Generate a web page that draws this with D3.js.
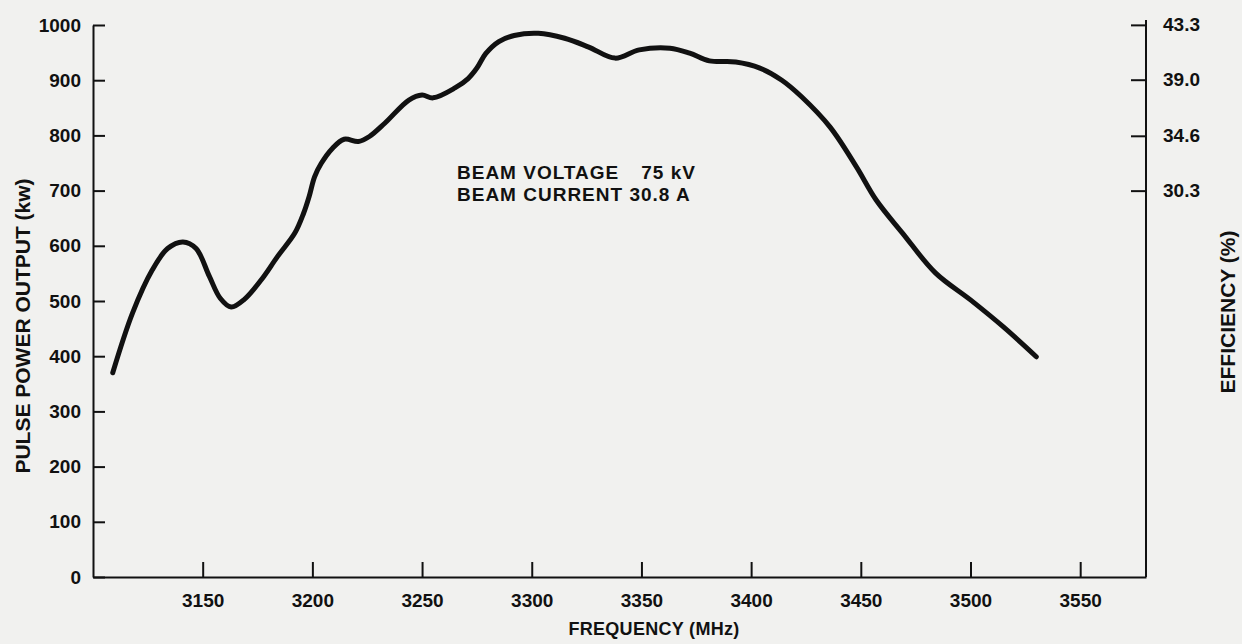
<!DOCTYPE html>
<html>
<head>
<meta charset="utf-8">
<script src="https://cdn.jsdelivr.net/npm/d3@7"></script>
<style>
  body { margin: 0; background: #f1f1ef; }
  svg { display: block; }
  text { font-family: "Liberation Sans", Arial, sans-serif; font-weight: bold; fill: #111; }
</style>
</head>
<body>
<svg id="chart" width="1242" height="644"></svg>
<script>
// frequency (MHz) and pulse power output (kW)
const freq = [3109, 3118, 3127, 3134, 3141, 3147, 3153, 3158, 3163, 3169, 3177, 3184, 3192,
  3196, 3198.5, 3201, 3204, 3209, 3214.5, 3221, 3226, 3233, 3244, 3250, 3255, 3265, 3271,
  3275, 3279, 3285, 3292, 3303, 3315, 3326, 3338, 3349, 3363, 3372, 3381, 3393, 3404, 3414,
  3423, 3436, 3448, 3457, 3469, 3484, 3500, 3515, 3530];
const power = [370, 478, 556, 595, 607, 595, 545, 505, 489, 503, 540, 580, 623,
  659, 689, 725, 749, 776, 793, 789, 798, 822, 864, 873, 868, 886, 903,
  922, 948, 970, 981, 985, 976, 960, 940, 955, 958, 949, 935, 933, 922, 900,
  870, 815, 743, 683, 623, 551, 502, 453, 399];

const xTicks = [3150, 3200, 3250, 3300, 3350, 3400, 3450, 3500, 3550];
const yTicks = [0, 100, 200, 300, 400, 500, 600, 700, 800, 900, 1000];
const effTicks = [30.3, 34.6, 39.0, 43.3];
const beamVoltage = 75;   // kV
const beamCurrent = 30.8; // A

const svg = d3.select("#chart");
const mLeft = 93, mRight = 1146, mTop = 25, mBottom = 577;

const x = d3.scaleLinear().domain([3100, 3580]).range([mLeft, mRight]);
const y = d3.scaleLinear().domain([0, 1000]).range([mBottom, mTop]);
// efficiency = power / (V * I)
const yEff = d3.scaleLinear()
  .domain([0, 1000 / (beamVoltage * beamCurrent) * 100])
  .range([mBottom, mTop]);

// left axis, ticks pointing inward
const gy = svg.append("g")
  .attr("transform", `translate(${mLeft},0)`)
  .call(d3.axisRight(y).tickValues(yTicks).tickSize(12).tickSizeOuter(0).tickFormat(d3.format("d")));
gy.selectAll("text").attr("x", -12).attr("text-anchor", "end");

// bottom axis, ticks pointing up
const gx = svg.append("g")
  .attr("transform", `translate(0,${mBottom})`)
  .call(d3.axisTop(x).tickValues(xTicks).tickSize(15).tickSizeOuter(0).tickFormat(d3.format("d")));
gx.selectAll("text").attr("y", 30).attr("dy", 0);

// right axis, ticks pointing inward
const gr = svg.append("g")
  .attr("transform", `translate(${mRight},0)`)
  .call(d3.axisLeft(yEff).tickValues(effTicks).tickSize(15).tickSizeOuter(0).tickFormat(d3.format(".1f")));
gr.selectAll("text").attr("x", 17).attr("text-anchor", "start");
gr.select(".domain").attr("d", `M0,${mTop - 5}V${mBottom}`);

svg.selectAll(".domain, .tick line").attr("stroke", "#111").attr("stroke-width", 2);
svg.selectAll(".tick text").style("font-size", "19px").attr("fill", "#111");

// the measured curve
const line = d3.line()
  .x((d, i) => x(freq[i]))
  .y(d => y(d))
  .curve(d3.curveCatmullRom.alpha(0.5));

svg.append("path")
  .datum(power)
  .attr("d", line)
  .attr("fill", "none")
  .attr("stroke", "#111")
  .attr("stroke-width", 5)
  .attr("stroke-linecap", "round")
  .attr("stroke-linejoin", "round");

// annotation
const note1 = svg.append("text")
  .attr("x", 457).attr("y", 179)
  .style("font-size", "19px")
  .style("letter-spacing", "1px")
  .text("BEAM VOLTAGE");
note1.append("tspan").attr("dx", 22).text(`${beamVoltage} kV`);
svg.append("text")
  .attr("x", 457).attr("y", 201)
  .style("font-size", "19px")
  .style("letter-spacing", "1px")
  .text(`BEAM CURRENT ${beamCurrent} A`);

// axis titles
svg.append("text")
  .attr("transform", "translate(30,326) rotate(-90)")
  .attr("text-anchor", "middle")
  .style("font-size", "21px")
  .text("PULSE POWER OUTPUT (kw)");

svg.append("text")
  .attr("transform", "translate(1235,312) rotate(-90)")
  .attr("text-anchor", "middle")
  .style("font-size", "21px")
  .text("EFFICIENCY (%)");

svg.append("text")
  .attr("x", 654).attr("y", 635)
  .attr("text-anchor", "middle")
  .style("font-size", "18px")
  .style("letter-spacing", "0.3px")
  .text("FREQUENCY (MHz)");
</script>
</body>
</html>
